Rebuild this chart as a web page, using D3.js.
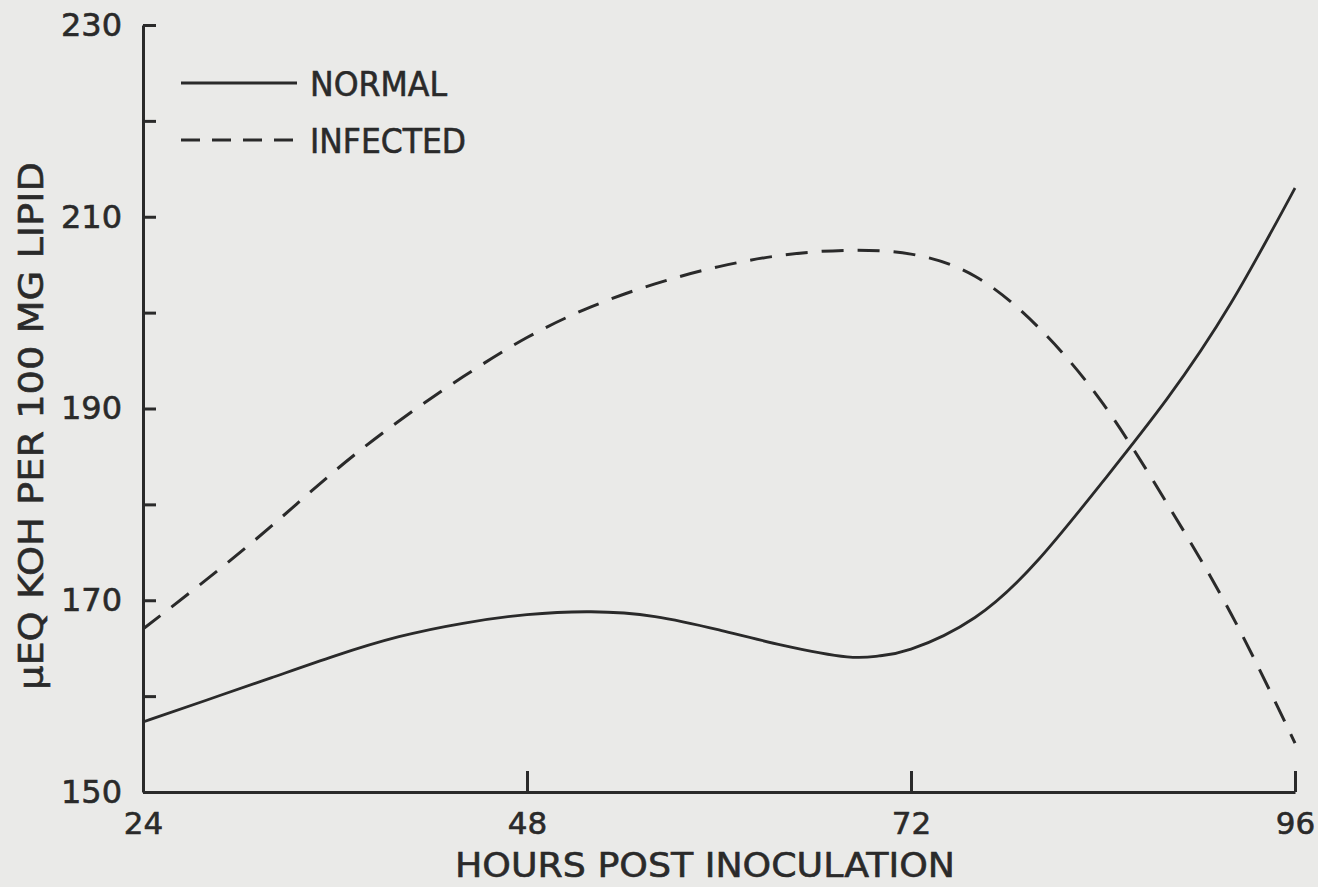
<!DOCTYPE html>
<html>
<head>
<meta charset="utf-8">
<script src="https://cdn.jsdelivr.net/npm/d3@7"></script>
<style>
  html, body { margin: 0; padding: 0; background: #eaeae8; }
  svg { display: block; }
  text { font-family: "DejaVu Sans", sans-serif; fill: #2a2a2a; stroke: #2a2a2a; stroke-width: 0.6px; }
</style>
</head>
<body>
<div id="chart"></div>
<script>
// hours post inoculation
const hours = [24, 28, 32, 36, 40, 44, 48, 52, 56, 60, 64, 68, 70, 72, 76, 80, 84, 88, 92, 96];
// ueq KOH per 100 mg lipid
const normal = [157.3, 159.6, 161.9, 164.2, 166.2, 167.6, 168.5, 168.8, 168.3, 166.9, 165.3, 164.1, 164.2, 164.9, 168.2, 174.3, 182.4, 191.0, 201.0, 213.0];
const infectedHours = [24, 28, 32, 36, 40, 44, 48, 52, 56, 60, 64, 68, 72, 76, 80, 84, 88, 92, 96];
const infected = [167.0, 172.2, 177.7, 183.5, 188.7, 193.3, 197.4, 200.6, 203.0, 204.8, 206.0, 206.5, 206.1, 203.8, 198.4, 190.5, 180.1, 168.6, 155.1];

const seriesNames = ["NORMAL", "INFECTED"];
const xTicks = [24, 48, 72, 96];
const yTicks = [150, 160, 170, 180, 190, 200, 210, 220, 230];
const yLabels = ["150", "", "170", "", "190", "", "210", "", "230"];

const width = 1318, height = 887;
const ink = "#2a2a2a";

const svg = d3.select("#chart").append("svg")
    .attr("width", width).attr("height", height);

const x = d3.scaleLinear().domain([24, 96]).range([143, 1295]);
const y = d3.scaleLinear().domain([150, 230]).range([792, 25]);

// y axis, ticks pointing inward
const yAxis = svg.append("g").attr("class", "axis")
    .attr("transform", `translate(${x(24)},0)`)
    .call(d3.axisLeft(y)
        .tickValues(yTicks)
        .tickFormat((d, i) => yLabels[i])
        .tickSizeInner(-13)
        .tickSizeOuter(0)
        .tickPadding(21));
yAxis.selectAll("text").attr("font-size", 32);

// x axis, ticks pointing up
const xAxis = svg.append("g").attr("class", "axis")
    .attr("transform", `translate(0,${y(150)})`)
    .call(d3.axisBottom(x)
        .tickValues(xTicks)
        .tickFormat(d3.format("d"))
        .tickSizeInner(-21)
        .tickSizeOuter(0)
        .tickPadding(20));
xAxis.selectAll("text").attr("font-size", 31);

svg.selectAll(".axis path, .axis line")
    .attr("stroke", ink).attr("stroke-width", 3);

const line = d3.line()
    .x(d => x(d[0]))
    .y(d => y(d[1]))
    .curve(d3.curveNatural);

svg.append("path")
    .datum(hours.map((h, i) => [h, normal[i]]))
    .attr("d", line)
    .attr("fill", "none")
    .attr("stroke", ink)
    .attr("stroke-width", 2.8);

svg.append("path")
    .datum(infectedHours.map((h, i) => [h, infected[i]]))
    .attr("d", line)
    .attr("fill", "none")
    .attr("stroke", ink)
    .attr("stroke-width", 3)
    .attr("stroke-dasharray", "22,14");

// legend
const legend = svg.append("g").attr("transform", "translate(181,83)");
seriesNames.forEach((name, i) => {
    const row = legend.append("g").attr("transform", `translate(0,${i * 57})`);
    row.append("line")
        .attr("x1", 0).attr("x2", 116)
        .attr("stroke", ink).attr("stroke-width", 3)
        .attr("stroke-dasharray", i === 1 ? "19,12" : null);
    row.append("text")
        .attr("x", 129).attr("y", 13)
        .attr("font-size", 33)
        .attr("textLength", i === 1 ? 156 : 137)
        .attr("lengthAdjust", "spacingAndGlyphs")
        .text(name);
});

// axis titles
svg.append("text")
    .attr("x", 705).attr("y", 877)
    .attr("text-anchor", "middle")
    .attr("font-size", 34)
    .attr("textLength", 500)
    .attr("lengthAdjust", "spacingAndGlyphs")
    .text("HOURS POST INOCULATION");

svg.append("text")
    .attr("transform", "translate(43,426) rotate(-90)")
    .attr("text-anchor", "middle")
    .attr("font-size", 34)
    .attr("textLength", 528)
    .attr("lengthAdjust", "spacingAndGlyphs")
    .text("μEQ KOH PER 100 MG LIPID");
</script>
</body>
</html>
